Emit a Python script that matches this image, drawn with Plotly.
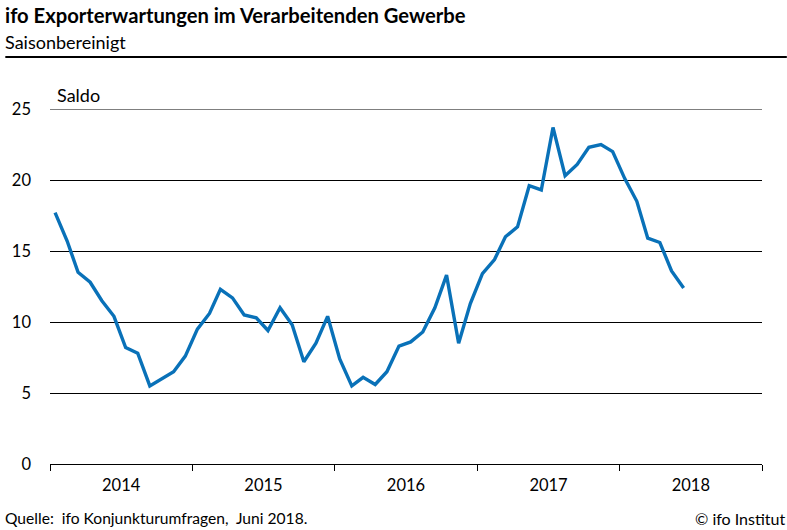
import plotly.graph_objects as go
import pandas as pd

# Monthly data Jan 2014 - Jun 2018
months = pd.date_range("2014-01-01", "2018-06-01", freq="MS") + pd.Timedelta(days=13)
values = [17.7, 15.7, 13.5, 12.8, 11.5, 10.4, 8.2, 7.8, 5.5, 6.0, 6.5, 7.6,
          9.5, 10.6, 12.3, 11.7, 10.5, 10.3, 9.4, 11.0, 9.8, 7.2, 8.5, 10.4,
          7.4, 5.5, 6.1, 5.6, 6.5, 8.3, 8.6, 9.3, 11.0, 13.3, 8.5, 11.3,
          13.4, 14.4, 16.0, 16.7, 19.6, 19.3, 23.7, 20.3, 21.1, 22.3, 22.5, 22.0,
          20.1, 18.5, 15.9, 15.6, 13.6, 12.4]
y_ticks = [0, 5, 10, 15, 20, 25]

title = "ifo Exporterwartungen im Verarbeitenden Gewerbe"
subtitle = "Saisonbereinigt"
unit = "Saldo"
source = "Quelle:  ifo Konjunkturumfragen,  Juni 2018."
copyright_text = "© ifo Institut"

FONT = "Lato"
W, H = 787, 530
L, R, T, B = 45, 25, 109, 66
PW, PH = W - L - R, H - T - B


def px(x):
    return (x - L) / PW


def py(y):
    return (H - B - y) / PH


fig = go.Figure()
fig.add_trace(go.Scatter(x=months, y=values, mode="lines",
                         line=dict(color="#0971b8", width=3.4),
                         hoverinfo="skip", cliponaxis=False))

fig.update_layout(
    width=W, height=H,
    margin=dict(l=L, r=R, t=T, b=B),
    paper_bgcolor="white", plot_bgcolor="white",
    showlegend=False,
    font=dict(family=FONT, size=16, color="black"),
    xaxis=dict(
        type="date",
        range=["2014-01-01", "2019-01-01"],
        dtick="M12", tick0="2014-01-01",
        tickformat="%Y", ticklabelmode="period",
        ticks="outside", ticklen=6, tickcolor="black", tickwidth=1,
        showgrid=False, showline=True, linecolor="black", linewidth=1,
        zeroline=False, fixedrange=True,
        tickfont=dict(family=FONT, size=16.5, color="black"),
    ),
    yaxis=dict(
        range=[0, 25], tickvals=y_ticks,
        showgrid=True, gridcolor="black", gridwidth=1,
        zeroline=False, showline=False, ticks="",
        ticklabelstandoff=18,
        tickfont=dict(family=FONT, size=16.5, color="black"),
        fixedrange=True,
    ),
)

# top gridline at 25 (plotly omits the gridline on the range edge)
fig.add_shape(type="line", xref="paper", yref="y", x0=0, x1=1,
              y0=y_ticks[-1], y1=y_ticks[-1], line=dict(color="black", width=1),
              layer="below")

fig.add_annotation(text="<b>" + title + "</b>", xref="paper", yref="paper",
                   x=px(0), y=py(15), xanchor="left", yanchor="middle", xshift=-2,
                   showarrow=False, font=dict(family=FONT, size=20.2, color="black"))
fig.add_annotation(text=subtitle, xref="paper", yref="paper",
                   x=px(0), y=py(42), xanchor="left", yanchor="middle", xshift=-2,
                   showarrow=False, font=dict(family=FONT, size=18, color="black"))
fig.add_shape(type="line", xref="paper", yref="paper",
              x0=px(0), x1=px(W), y0=py(57), y1=py(57),
              line=dict(color="black", width=2))
fig.add_annotation(text=unit, xref="paper", yref="paper",
                   x=px(53), y=py(95), xanchor="left", yanchor="middle", xshift=-3,
                   showarrow=False, font=dict(family=FONT, size=18, color="black"))
fig.add_annotation(text=source, xref="paper", yref="paper",
                   x=px(0), y=py(518), xanchor="left", yanchor="middle", xshift=-2,
                   showarrow=False, font=dict(family=FONT, size=15.6, color="black"))
fig.add_annotation(text=copyright_text, xref="paper", yref="paper",
                   x=px(785), y=py(518), xanchor="right", yanchor="middle", xshift=2,
                   showarrow=False, font=dict(family=FONT, size=16, color="black"))

fig.write_html("out.html", config=dict(displayModeBar=False),
               post_script="document.body.style.margin='0';document.body.style.padding='0';")
